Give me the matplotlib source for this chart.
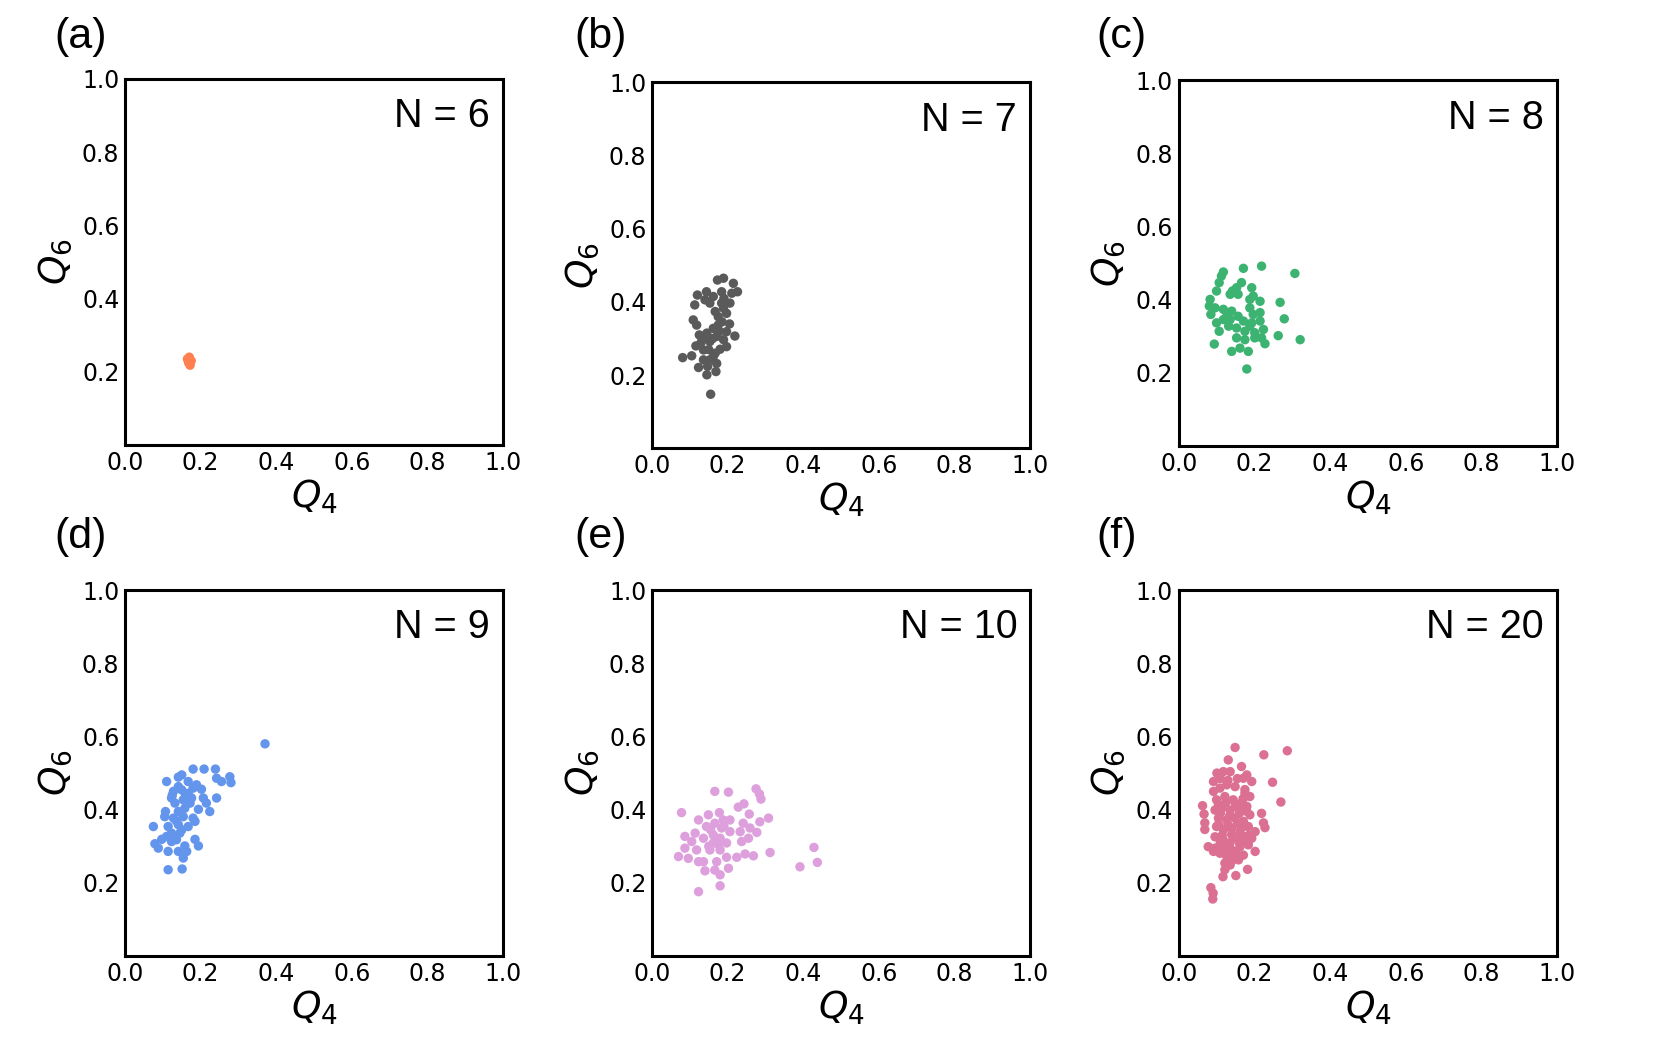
import matplotlib
matplotlib.use("Agg")
import matplotlib.pyplot as plt

# ---------------- data ----------------
labels = ["(a)", "(b)", "(c)", "(d)", "(e)", "(f)"]
n_labels = ["N = 6", "N = 7", "N = 8", "N = 9", "N = 10", "N = 20"]
colors = ["#FF7F50", "#5A5A5A", "#3CB371", "#6495ED", "#DDA0DD", "#DB7093"]

q4_n6 = [0.165, 0.170, 0.175, 0.168, 0.172, 0.170]
q6_n6 = [0.235, 0.240, 0.230, 0.225, 0.218, 0.228]

q4_n7 = [0.155, 0.081, 0.105, 0.123, 0.145, 0.169, 0.116, 0.136, 0.153, 0.167, 0.180,
         0.125, 0.145, 0.171, 0.197, 0.219, 0.189, 0.153, 0.109, 0.118, 0.175, 0.175,
         0.197, 0.185, 0.113, 0.120, 0.144, 0.140, 0.162, 0.184, 0.211, 0.226, 0.215,
         0.189, 0.173, 0.206, 0.189, 0.167, 0.153, 0.162, 0.136, 0.184, 0.197, 0.171,
         0.136, 0.147, 0.162, 0.160, 0.178, 0.150, 0.130, 0.190, 0.205]
q6_n7 = [0.148, 0.248, 0.253, 0.221, 0.201, 0.210, 0.280, 0.269, 0.242, 0.260, 0.271,
         0.310, 0.315, 0.306, 0.319, 0.307, 0.297, 0.292, 0.351, 0.337, 0.337, 0.360,
         0.369, 0.346, 0.392, 0.419, 0.428, 0.406, 0.415, 0.428, 0.424, 0.428, 0.451,
         0.465, 0.460, 0.397, 0.383, 0.374, 0.397, 0.328, 0.301, 0.397, 0.278, 0.232,
         0.242, 0.224, 0.251, 0.300, 0.320, 0.270, 0.290, 0.410, 0.340]

q4_n8 = [0.180, 0.171, 0.219, 0.307, 0.118, 0.113, 0.107, 0.100, 0.083, 0.081, 0.085,
         0.096, 0.100, 0.107, 0.094, 0.142, 0.153, 0.166, 0.157, 0.136, 0.193, 0.197,
         0.188, 0.215, 0.268, 0.279, 0.263, 0.321, 0.228, 0.140, 0.162, 0.184, 0.127,
         0.140, 0.118, 0.157, 0.171, 0.193, 0.215, 0.215, 0.224, 0.201, 0.175, 0.153,
         0.132, 0.153, 0.175, 0.201, 0.219, 0.188, 0.197, 0.136, 0.118, 0.188]
q6_n8 = [0.211, 0.486, 0.492, 0.472, 0.476, 0.465, 0.447, 0.424, 0.401, 0.383, 0.360,
         0.378, 0.337, 0.314, 0.279, 0.424, 0.433, 0.447, 0.415, 0.415, 0.433, 0.410,
         0.401, 0.396, 0.393, 0.348, 0.302, 0.291, 0.280, 0.259, 0.268, 0.259, 0.365,
         0.369, 0.346, 0.355, 0.342, 0.337, 0.365, 0.342, 0.319, 0.310, 0.314, 0.323,
         0.328, 0.296, 0.291, 0.296, 0.296, 0.328, 0.360, 0.346, 0.374, 0.378]

q4_n9 = [0.370, 0.180, 0.209, 0.239, 0.242, 0.277, 0.280, 0.255, 0.110, 0.141, 0.167,
         0.150, 0.189, 0.202, 0.128, 0.123, 0.150, 0.167, 0.176, 0.154, 0.207, 0.242,
         0.215, 0.224, 0.194, 0.158, 0.141, 0.107, 0.105, 0.128, 0.154, 0.180, 0.185,
         0.167, 0.141, 0.114, 0.075, 0.123, 0.145, 0.110, 0.097, 0.079, 0.088, 0.123,
         0.136, 0.185, 0.194, 0.158, 0.163, 0.141, 0.114, 0.154, 0.114, 0.151, 0.132,
         0.172, 0.141, 0.180, 0.160, 0.135, 0.150, 0.125]
q6_n9 = [0.580, 0.511, 0.511, 0.511, 0.486, 0.490, 0.474, 0.477, 0.477, 0.489, 0.477,
         0.495, 0.468, 0.456, 0.450, 0.432, 0.454, 0.445, 0.432, 0.427, 0.432, 0.432,
         0.418, 0.395, 0.401, 0.404, 0.395, 0.395, 0.381, 0.377, 0.381, 0.377, 0.368,
         0.354, 0.359, 0.354, 0.354, 0.336, 0.336, 0.327, 0.319, 0.307, 0.295, 0.313,
         0.318, 0.319, 0.301, 0.301, 0.286, 0.286, 0.286, 0.268, 0.236, 0.238, 0.418,
         0.418, 0.463, 0.459, 0.440, 0.370, 0.345, 0.440]

q4_n10 = [0.166, 0.202, 0.275, 0.284, 0.288, 0.078, 0.228, 0.243, 0.257, 0.308, 0.285,
          0.123, 0.149, 0.178, 0.206, 0.241, 0.233, 0.259, 0.277, 0.255, 0.237, 0.087,
          0.114, 0.144, 0.166, 0.184, 0.206, 0.105, 0.136, 0.162, 0.180, 0.197, 0.087,
          0.118, 0.153, 0.180, 0.070, 0.096, 0.123, 0.136, 0.171, 0.197, 0.224, 0.246,
          0.268, 0.312, 0.140, 0.166, 0.202, 0.180, 0.123, 0.180, 0.391, 0.428, 0.437,
          0.162, 0.188, 0.155, 0.175, 0.190, 0.150]
q6_n10 = [0.450, 0.448, 0.457, 0.443, 0.429, 0.392, 0.407, 0.416, 0.388, 0.377, 0.367,
          0.372, 0.386, 0.392, 0.372, 0.363, 0.340, 0.350, 0.338, 0.322, 0.313, 0.327,
          0.336, 0.354, 0.363, 0.350, 0.340, 0.313, 0.322, 0.331, 0.322, 0.309, 0.295,
          0.290, 0.290, 0.290, 0.272, 0.267, 0.258, 0.258, 0.258, 0.270, 0.270, 0.279,
          0.274, 0.283, 0.233, 0.235, 0.240, 0.222, 0.176, 0.192, 0.244, 0.297, 0.256,
          0.309, 0.372, 0.345, 0.305, 0.355, 0.300]

q4_n20 = [0.149, 0.225, 0.287, 0.131, 0.166, 0.180, 0.171, 0.193, 0.248, 0.270, 0.063,
          0.067, 0.069, 0.069, 0.219, 0.224, 0.228, 0.202, 0.182, 0.151, 0.117, 0.085,
          0.091, 0.090, 0.101, 0.118, 0.136, 0.092, 0.092, 0.109, 0.127, 0.149, 0.175,
          0.188, 0.100, 0.122, 0.144, 0.166, 0.096, 0.114, 0.136, 0.158, 0.180, 0.188,
          0.105, 0.127, 0.149, 0.171, 0.100, 0.118, 0.140, 0.162, 0.184, 0.202, 0.096,
          0.118, 0.144, 0.171, 0.193, 0.078, 0.096, 0.118, 0.140, 0.162, 0.184, 0.109,
          0.127, 0.149, 0.171, 0.122, 0.136, 0.158, 0.122, 0.092,
          0.110, 0.130, 0.155, 0.175, 0.105, 0.125, 0.150, 0.170, 0.110, 0.135, 0.160,
          0.180, 0.105, 0.130, 0.155, 0.175, 0.115, 0.140, 0.165, 0.185, 0.110, 0.135,
          0.160, 0.130, 0.150, 0.140]
q6_n20 = [0.570, 0.550, 0.561, 0.536, 0.518, 0.495, 0.486, 0.477, 0.475, 0.421, 0.411,
          0.388, 0.364, 0.346, 0.390, 0.364, 0.351, 0.286, 0.237, 0.220, 0.217, 0.187,
          0.172, 0.156, 0.500, 0.504, 0.504, 0.477, 0.450, 0.459, 0.468, 0.463, 0.445,
          0.436, 0.427, 0.436, 0.427, 0.418, 0.399, 0.404, 0.399, 0.404, 0.409, 0.386,
          0.377, 0.372, 0.377, 0.368, 0.354, 0.345, 0.349, 0.340, 0.354, 0.340, 0.326,
          0.317, 0.322, 0.317, 0.322, 0.299, 0.295, 0.295, 0.290, 0.299, 0.304, 0.281,
          0.272, 0.272, 0.276, 0.254, 0.249, 0.263, 0.236, 0.286,
          0.485, 0.480, 0.485, 0.455, 0.415, 0.420, 0.415, 0.430, 0.390, 0.385, 0.390,
          0.395, 0.360, 0.360, 0.362, 0.355, 0.330, 0.332, 0.330, 0.330, 0.310, 0.308,
          0.310, 0.285, 0.285, 0.260]

q4_all = [q4_n6, q4_n7, q4_n8, q4_n9, q4_n10, q4_n20]
q6_all = [q6_n6, q6_n7, q6_n8, q6_n9, q6_n10, q6_n20]

xticks = [0.0, 0.2, 0.4, 0.6, 0.8, 1.0]
yticks = [0.2, 0.4, 0.6, 0.8, 1.0]

# ---------------- layout ----------------
fig = plt.figure(figsize=(16.62, 10.56), dpi=100)
W, H = 1662.0, 1056.0
ax_w, ax_h = 378.4, 366.0
lefts = [125.0, 652.0, 1178.7, 125.0, 652.0, 1178.7]
bottoms_px = [445.0, 448.4, 446.2, 956.1, 956.1, 956.1]
label_xy = [(54, 17), (574, 17), (1096, 17), (54, 517), (574, 517), (1096, 517)]

for i in range(6):
    ax = fig.add_axes([lefts[i] / W, 1 - bottoms_px[i] / H, ax_w / W, ax_h / H])
    ax.scatter(q4_all[i], q6_all[i], s=46, color=colors[i], edgecolors='none', zorder=3)
    ax.set_xlim(0, 1)
    ax.set_ylim(0, 1)
    ax.set_xticks(xticks)
    ax.set_yticks(yticks)
    ax.set_xticklabels([f"{t:.1f}" for t in xticks])
    ax.set_yticklabels([f"{t:.1f}" for t in yticks])
    ax.tick_params(length=0, pad=4, labelsize=17)
    for sp in ax.spines.values():
        sp.set_linewidth(2.2)
    ax.set_xlabel(r"$Q_4$", fontsize=27, labelpad=2)
    ax.set_ylabel(r"$Q_6$", fontsize=27, labelpad=6)
    ax.text(0.965, 0.868, n_labels[i], transform=ax.transAxes, ha='right', va='baseline',
            fontsize=28.5, family='Liberation Sans')
    lx, ly = label_xy[i]
    fig.text(lx / W, 1 - ly / H, labels[i], ha='left', va='top', fontsize=31,
             family='Liberation Sans')

fig.savefig("out.png", dpi=100)
